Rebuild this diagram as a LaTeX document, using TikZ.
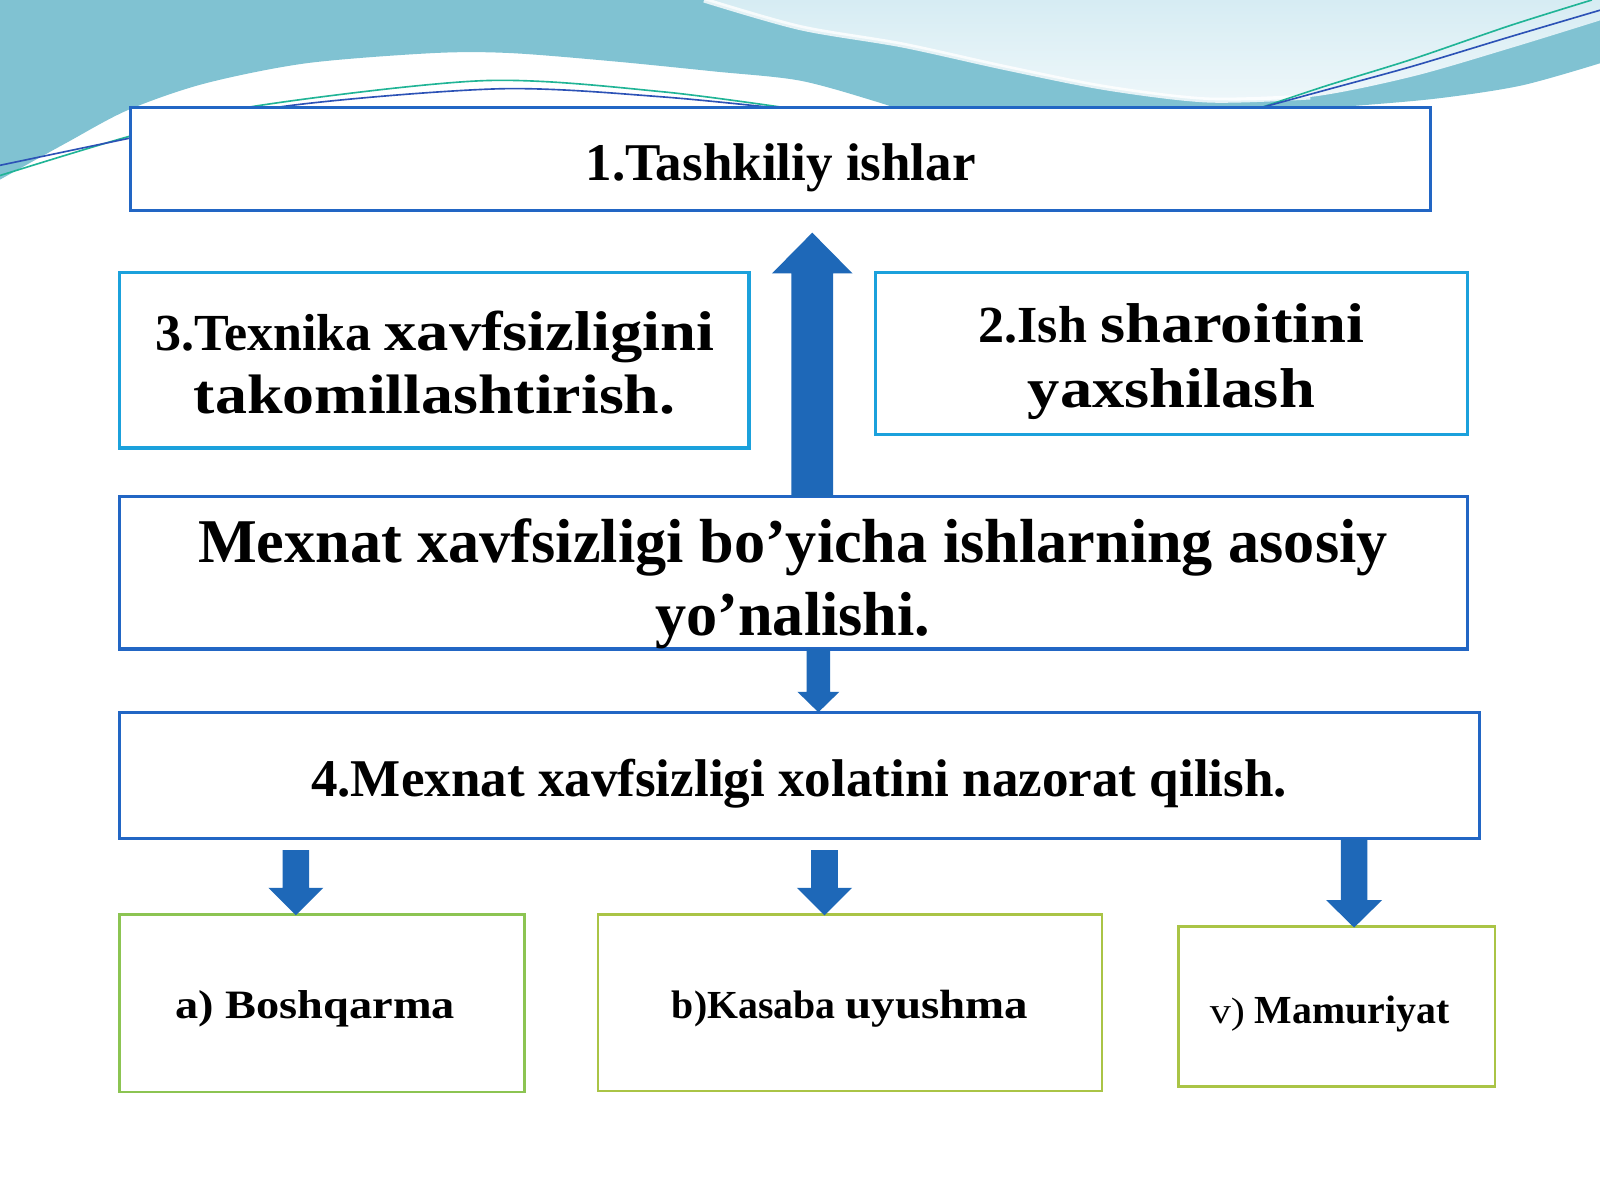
\documentclass[tikz,border=0pt]{standalone}
\usepackage{fontspec}
\setmainfont{Liberation Serif}
\newfontfamily\wide[FakeStretch=1.15]{Liberation Serif}
\usetikzlibrary{calc}
\definecolor{bgteal}{RGB}{128,194,210}
\definecolor{bglight}{RGB}{214,236,243}
\definecolor{bglight2}{RGB}{238,247,250}
\definecolor{linegreen}{RGB}{32,180,150}
\definecolor{lineblue}{RGB}{44,82,182}
\definecolor{darkborder}{RGB}{34,102,196}
\definecolor{cyanborder}{RGB}{27,161,220}
\definecolor{greenborder}{RGB}{140,196,82}
\definecolor{olivborder}{RGB}{170,196,70}
\definecolor{arrowblue}{RGB}{30,104,184}
\newcommand\fs[1]{\fontsize{#1}{#1}\selectfont}
\newcommand\blockarrow[5]{%
  \fill[arrowblue] let \p1=(#1), \p2=(#2), \p3=($(#2)!#5pt!(#1)$) in
    ({\x1-#3pt},\y1) -- ({\x1-#3pt},\y3) -- ({\x1-#4pt},\y3) -- (\x2,\y2) --
    ({\x1+#4pt},\y3) -- ({\x1+#3pt},\y3) -- ({\x1+#3pt},\y1) -- cycle;}
\tikzset{
  box/.style={draw=#1, line width=3pt, fill=white, inner sep=0pt, outer sep=0pt, anchor=north west},
  gbox/.style={draw=#1, line width=2.6pt, fill=white, inner sep=0pt, outer sep=0pt, anchor=north west},
  txt/.style={anchor=base, inner sep=0pt, font=\bfseries, text=black},
  deco/.style={line width=1.6pt}
}
\begin{document}
\begin{tikzpicture}[x=1pt,y=-1pt]
\useasboundingbox (0,0) rectangle (1568,1176);
\fill[white] (0,0) rectangle (1568,1176);
% background band
\fill[bgteal] (0,0) -- (1568,0) -- (1568,62)
  -- plot[smooth] coordinates {(1568,62) (1490,84) (1404,97) (1300,106) (1234,112)}
  -- (900,114)
  -- plot[smooth] coordinates {(900,114) (860,100) (784,79) (700,70) (600,60) (500,52) (425,52) (300,62) (200,82) (125,108) (65,140) (0,176)}
  -- cycle;
\shade[top color=bglight, bottom color=bglight2] (690,0)
  -- plot[smooth] coordinates {(690,0) (784,27) (884,44) (984,66) (1084,86) (1184,98) (1284,95) (1384,75) (1484,46) (1568,20)}
  -- (1568,0) -- cycle;
\draw[white, line width=5pt, opacity=0.8] plot[smooth] coordinates {(690,0) (784,27) (884,44) (984,66) (1084,86) (1184,98) (1284,95)};
% decorative lines
\draw[deco, linegreen] plot[smooth] coordinates {(0,172) (129,133) (250,104) (475,79) (650,90) (800,110)};
\draw[deco, lineblue] plot[smooth] coordinates {(0,162) (129,135) (280,104) (490,87) (650,95) (800,110)};
\draw[deco, linegreen] plot[smooth] coordinates {(1234,106) (1300,84) (1384,58) (1480,25) (1560,0)};
\draw[deco, lineblue] plot[smooth] coordinates {(1234,106) (1300,88) (1384,65) (1480,36) (1568,10)};
% boxes
\node[box=darkborder, minimum width=1274pt, minimum height=101pt] (b1) at (128,105) {};
\node[box=cyanborder, minimum width=617pt, minimum height=172pt] (b3) at (117,267) {};
\node[box=cyanborder, minimum width=580pt, minimum height=159pt] (b2) at (858,267) {};
\node[box=darkborder, minimum width=1321pt, minimum height=149pt] (bm) at (117,487) {};
\node[box=darkborder, minimum width=1333pt, minimum height=124pt] (b4) at (117,698) {};
\node[gbox=greenborder, minimum width=397pt, minimum height=174pt] (ba) at (117,896) {};
\node[gbox=olivborder, minimum width=494pt, minimum height=173pt] (bb) at (586,896) {};
\node[gbox=olivborder, minimum width=310pt, minimum height=157pt] (bv) at (1155,908) {};
% arrow axes
\coordinate (ax1) at (796,0);
\coordinate (ax2) at (802,0);
\coordinate (ax3) at (290,0);
\coordinate (ax4) at (808,0);
\coordinate (ax5) at (1327,0);
\path (bm.north -| ax1) coordinate (u0);
\path (b1.south -| ax1) ++(0,22) coordinate (u1);
\blockarrow{u0}{u1}{20.5}{39.5}{40}
\path (bm.south -| ax2) coordinate (d0);
\path (b4.north -| ax2) coordinate (d1);
\blockarrow{d0}{d1}{11.5}{20.5}{20}
\path (b4.south -| ax3) ++(0,11) coordinate (a0);
\path (ba.north -| ax3) ++(0,1) coordinate (a1);
\blockarrow{a0}{a1}{13}{27}{27}
\path (b4.south -| ax4) ++(0,11) coordinate (c0);
\path (bb.north -| ax4) ++(0,1) coordinate (c1);
\blockarrow{c0}{c1}{13}{27}{27}
\path (b4.south -| ax5) coordinate (v0);
\path (bv.north -| ax5) ++(0,1) coordinate (v1);
\blockarrow{v0}{v1}{13}{27.5}{27}
% texts
\node[txt] (t1) at (765,177) {\fs{52}1.Tashkiliy ishlar};
\node[txt] (t3a) at (426,343) {\fs{51}3.Texnika {\wide\fs{55}xavfsizligini}};
\node[txt] (t3b) at (426,405) {\wide\fs{54.5}takomillashtirish.};
\node[txt] (t2a) at (1148,336) {\fs{51}2.Ish {\wide\fs{55}sharoitini}};
\node[txt] (t2b) at (1148,399) {\wide\fs{55}yaxshilash};
\node[txt] (tm1) at (777,551) {\fs{61}Mexnat xavfsizligi bo’yicha ishlarning asosiy};
\node[txt] (tm2) at (777,623) {\fs{61}yo’nalishi.};
\node[txt] (t4) at (783,781) {\fs{52}4.Mexnat xavfsizligi xolatini nazorat qilish.};
\node[txt] (ta) at (309,998) {\wide\fs{39.5}a) Boshqarma};
\node[txt] (tb) at (833,998) {\fs{39}b)Kasaba {\wide\fs{40}uyushma}};
\node[txt] (tv) at (1303,1003) {\fs{39}{\wide\mdseries\fs{36}v)} Mamuriyat};
\end{tikzpicture}
\end{document}
